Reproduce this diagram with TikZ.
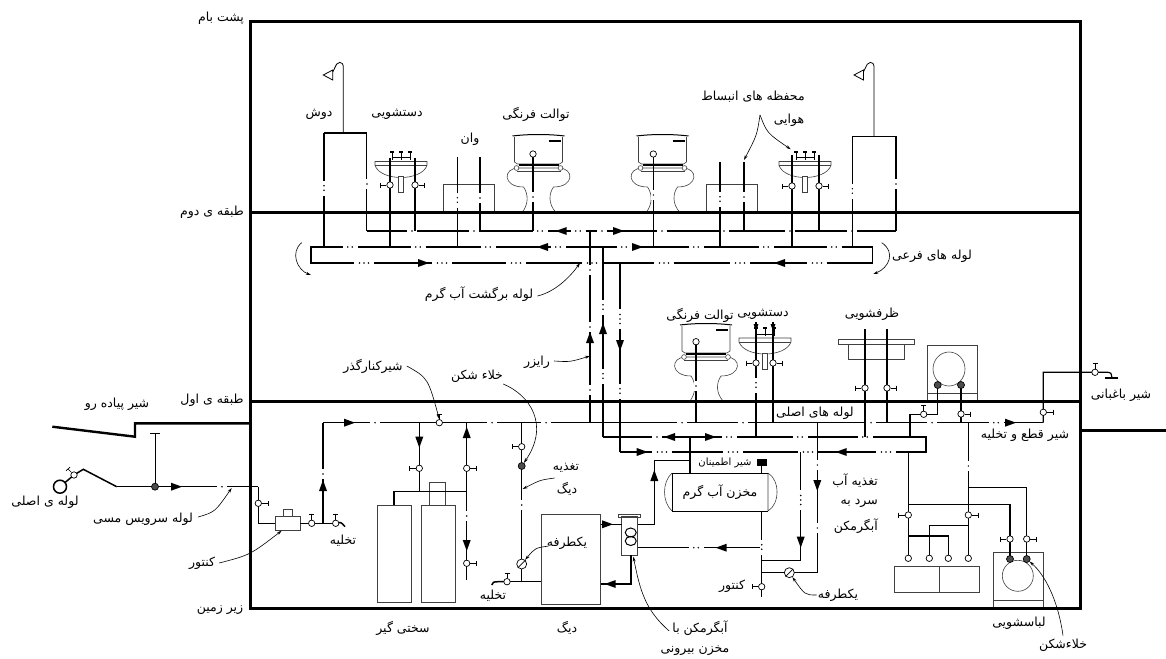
\documentclass[tikz,border=0pt]{standalone}
\usepackage{fontspec}
\usetikzlibrary{arrows.meta}
\TeXXeTstate=1
\newfontfamily\arabicfont[Script=Arabic]{DejaVu Sans}
\newcommand{\fa}[1]{{\arabicfont\beginR #1\endR}}
% white break in a pipe with n dots in it: x, y, n
\newcommand{\hbreak}[3]{%
  \fill[white] ({#1-(#3*2.5+2.5)},{#2-2}) rectangle ({#1+(#3*2.5+2.5)},{#2+2});
  \foreach \k in {1,...,#3} \fill ({#1+(\k-(#3+1)/2)*4.5},#2) circle (0.8);
}
\newcommand{\vbreak}[3]{%
  \fill[white] ({#1-2},{#2-(#3*2.5+2.5)}) rectangle ({#1+2},{#2+(#3*2.5+2.5)});
  \foreach \k in {1,...,#3} \fill (#1,{#2+(\k-(#3+1)/2)*4.5}) circle (0.8);
}
\tikzset{
  wall/.style={line width=3pt},
  pipe/.style={line width=1.5pt,line join=miter},
  svcpipe/.style={line width=1pt},
  fixture/.style={line width=0.6pt,black!75},
  stem/.style={line width=0.7pt},
  lbl/.style={font=\fontsize{12.5}{14}\selectfont,inner sep=0pt},
  leader/.style={line width=0.6pt,-{Stealth[length=5pt,width=3pt]}},
  valve/.style={circle,draw,line width=0.7pt,fill=white,inner sep=0pt,minimum size=6.4pt},
  darkvalve/.style={valve,fill=black!70,minimum size=7pt},
  basin/.pic={
    \draw[fixture,fill=white] (-26,0) -- (26,0) -- (26,4) .. controls (20,20) and (-20,20) .. (-26,4) -- cycle;
    \draw[fixture] (-26,4) -- (26,4);
    \draw[fixture,fill=white] (-2.5,15) rectangle (2.5,31);
    \draw[line width=0.9pt] (-9,-4) -- (9,-4);
    \foreach \k in {-9,0,9} {
      \draw[line width=1pt] (\k,-10) -- (\k,-2);
      \fill (\k-2,-11) rectangle (\k+2,-9);
    }
  },
  toilet/.pic={
    \draw[line width=1pt] (-26,-76) .. controls (-10,-78) and (10,-78) .. (26,-76);
    \draw[fixture] (-24,-75) -- (-24,-50) -- (-21,-48) -- (21,-48) -- (24,-50) -- (24,-75);
    \draw[line width=1.3pt] (10,-71) -- (22,-71);
    \draw[fixture,fill=white] (-15,-25) .. controls (-36,-25) and (-36,-44) .. (-20,-44) -- (20,-44) .. controls (36,-44) and (36,-25) .. (15,-25);
    \draw[fixture] (-22,-41) -- (22,-41);
    \draw[line width=1.4pt] (-20,-47) -- (20,-47);
    \draw[fixture,fill=white] (-22,-44) circle (2.4) (22,-44) circle (2.4);
    \draw[fixture] (-15,-25) .. controls (-10,-18) and (-10,-8) .. (-16,0);
    \draw[fixture] (15,-25) .. controls (10,-18) and (10,-8) .. (17,0);
  },
  washer/.pic={
    \draw[fixture] (0,0) rectangle (50,56);
    \draw[fixture] (0,48) -- (50,48);
    \draw[fixture] (24.5,23.5) circle (15.5);
  }
}
\begin{document}
\begin{tikzpicture}[x=1pt,y=-1pt]
  \useasboundingbox (0,0) rectangle (1166,658);

  % fixtures
  \draw[fixture] (443.3,212) -- (443.3,184.3) -- (494.7,184.3) -- (494.7,212);
  \draw[fixture] (706,212) -- (706,184.3) -- (757,184.3) -- (757,212);
  \path (538.5,212) pic {toilet} (662.5,212) pic {toilet} (706,401) pic {toilet};
  \path (401,161.5) pic {basin} (805,161.5) pic {basin} (765,338) pic {basin};
  \draw[fixture] (838,339) rectangle (914,344) (848,344) rectangle (904,359);
  \draw[fixture] (927.7,401) -- (927.7,345) -- (977.7,345) -- (977.7,401) (927.7,393) -- (977.7,393);
  \draw[fixture] (949,369) ellipse (16 and 17);
  \path (993.3,552.3) pic {washer};
  \draw[fixture] (377.3,505) rectangle (411.7,602.3) (421.7,505) rectangle (455.7,602.3);
  \draw[fixture] (429.3,482.3) rectangle (445.7,505);
  \draw[fixture] (541,514) rectangle (600.7,604);
  \draw[fixture] (894,566.7) rectangle (979,592.3) (939,566.7) -- (939,592.3);
  \draw[fixture] (275,516) rectangle (300,530.3) (283,509.3) rectangle (292.7,516);
  \draw[fixture] (621.7,516.7) rectangle (637.7,555);
  \draw[fixture] (618.3,514) rectangle (640,517.5);
  \draw[line width=1pt] (630.7,532.5) ellipse (5.5 and 4.5) (630.7,541) ellipse (5.5 and 4.5);
  \draw[fixture] (768,473) -- (768,511) .. controls (780,504) and (780,480) .. (768,473);
  \draw[fixture] (672,473) .. controls (662,482) and (662,502) .. (672,511);
  \draw[line width=1pt] (672,473) -- (672,511);
  \draw[line width=1pt] (672,473) -- (768,473) (672,511) -- (768,511);
  \fill (757,459) rectangle (767,466);

  % showers
  \foreach \x/\y in {343.3/133,874/136.7} {
    \draw[line width=0.8pt] (\x,\y) -- (\x,66) arc (0:-150:3.6) -- (\x-10.6,72);
    \draw[line width=0.8pt] (\x-10.6,70) -- (\x-20,75) -- (\x-10.6,80) -- cycle;
  }

  % building
  \draw[wall] (250,21.7) rectangle (1080,608);
  \draw[wall] (250,212.7) -- (1080,212.7) (250,401.5) -- (1080,401.5);
  \draw[wall] (1080,430.7) -- (1166,430.7);
  \draw[line width=2.4pt] (52.3,426.7) -- (135,436.7) -- (135,423.3) -- (250,423.3);

  % horizontal runs
  \draw[pipe] (367,231) -- (896,231);
  \draw[pipe] (311,263) -- (311,247) -- (872.7,247) -- (872.7,263) -- cycle;
  \draw[pipe] (323,422.7) -- (1043.3,422.7);
  \draw[pipe] (603,437) -- (926,437) -- (926,452) -- (620,452);
  \draw[pipe] (637.7,547.7) -- (761.7,547.7);
  \draw[svcpipe] (116.7,486.7) -- (258.3,486.7);
  \foreach \x/\y/\n in {412/231/1,474/231/1,540/231/2,578/231/2,602/231/1,662/231/1,724/231/1,790/231/1,852/231/1,
    350/247/2,418/247/2,488/247/2,558/247/2,624/247/2,696/247/2,766/247/2,834/247/2,
    364/263/3,442/263/3,516/263/3,592/263/3,664/263/3,740/263/3,817/263/3,
    375/422.7/1,492/422.7/1,546/422.7/1,682/422.7/1,743/422.7/1,871/422.7/1,932/422.7/1,996/422.7/2,
    657/437/1,729/437/2,800/437/2,865/437/2,
    662/452/3,733/452/3,808/452/3,886/452/3,
    696/547.7/2,222/486.7/1}
    \hbreak{\x}{\y}{\n};

  % upper floor risers and drops
  \draw[pipe]
    (324,133) -- (324,247) (324,133) -- (366.7,133) -- (366.7,231)
    (852.3,136.7) -- (852.3,247) (852.3,136.7) -- (896,136.7) -- (896,231)
    (390,158) -- (390,247) (415,158) -- (415,231)
    (457.3,157) -- (457.3,247) (480,157) -- (480,231)
    (533,154) -- (533,231) (653.3,154) -- (653.3,247)
    (720,162) -- (720,247) (744,162) -- (744,231)
    (792,155) -- (792,247) (819,155) -- (819,231)
    (590,231) -- (590,422.7) (603,247) -- (603,437) (620,263) -- (620,452)
    (696,341) -- (696,422.7) (756,322) -- (756,437) (773,322) -- (773,422.7)
    (865,329) -- (865,437) (887,329) -- (887,422.7);
  % lower floor
  \draw[pipe]
    (323,523.3) -- (323,422.7) (300,523.3) -- (335.7,523.3)
    (419.3,422.7) -- (419.3,491.7) (394,505) -- (394,491.7) -- (466.7,491.7)
    (466.7,422.7) -- (466.7,580)
    (521.7,422.7) -- (521.7,581.7) (507,581.7) -- (541,581.7)
    (600.7,524.3) -- (621.7,524.3) (637.7,524.3) -- (654.3,524.3) -- (654.3,460.7) -- (690,460.7)
    (690,437) -- (690,473) (631,555) -- (631,584) -- (600.7,584)
    (761.7,466) -- (761.7,473) (761.7,511) -- (761.7,596.7)
    (761.7,560.7) -- (800.7,560.7) -- (800.7,452)
    (761.7,572.7) -- (817.3,572.7) -- (817.3,422.7)
    (937.7,385) -- (937.7,414.3) -- (910,414.3) -- (910,437)
    (961,385) -- (961,422.7)
    (908.3,452) -- (908.3,558.3) (908.3,536) -- (948.3,536) -- (948.3,558.3)
    (968.3,422.7) -- (968.3,558.3) (968.3,525.7) -- (929.3,525.7) -- (929.3,558.3)
    (908.3,504.3) -- (1010,504.3) -- (1010,559)
    (968.3,487.7) -- (1026.7,487.7) -- (1026.7,559);
  \draw[svcpipe] (258.3,486.7) -- (258.3,523.3) -- (275,523.3);
  \draw[svcpipe,line width=1.2pt] (1043.3,422.7) -- (1043.3,372.3) -- (1108,372.3) .. controls (1111,372.5) .. (1112,378);
  \draw[line width=1.4pt] (1105,378) -- (1118,378);
  \draw[line width=1.5pt] (60,486.7) -- (74,475) -- (83.3,469.3) -- (116.7,486.7);
  \draw[line width=1.5pt,fill=white] (60,486.7) circle (6.5);
  \draw[svcpipe] (155,486.7) -- (155,433) (150,433) -- (160,433);
  \draw[pipe] (335.7,523.3) .. controls (341,522) .. (345,526.7);
  \draw[pipe] (507,581.7) -- (498,581.7) .. controls (493,582) .. (491.7,585);
  \foreach \x/\y/\n in {324/188/2,367/184/1,457.3/200/2,480/198/1,533/197/1,653.3/195/1,720/199/2,744/197/1,852.3/191/2,896/184/1,
    590/270/1,590/327/1,590/390/1,603/307/2,603/376/2,620/319/3,620/391/2,
    696/386/1,756/385/2,323/474/1,466.7/516/1,521.7/505/1,968.3/466/1,
    800.7/500/3,817.3/465/1,817.3/528/1,761.7/547/2}
    \vbreak{\x}{\y}{\n};

  % flow arrows: x, y, direction
  \foreach \x/\y/\a in {561.7/231/180,618/231/0,543/247/180,637/247/0,423/263/0,780/263/180,
    176/486.7/0,349/422.7/0,1010/422.7/0,323/486/90,
    590/338/90,603/329/90,620/345/270,
    419.3/441.7/270,466.7/433/90,466.7/545/270,
    670/437/180,710/437/0,641.7/452/0,841.7/452/180,
    607/524.3/0,610.7/584/180,654.3/476/90,721.7/547.7/180,
    817.3/485/270,800.7/541.7/270}
    \fill[shift={(\x,\y)},rotate=\a] (6,0) -- (-5,4) -- (-5,-4) -- cycle;
  \foreach \x in {756,773}
    \fill (\x-2.5,324) -- (\x+2.5,324) -- (\x,331) -- cycle;

  % valves with a stem to the left, to the right, upwards
  \foreach \x/\y [count=\i] in {390/185,792/186,756/363,865/388,419.3/468.3,521.7/446.7,761.7/586.7,908.3/515,1010/539} {
    \node[valve] (vl\i) at (\x,\y) {};
    \draw[stem] (vl\i.west) -- ++(-6,0) ++(0,-2.5) -- ++(0,5);
  }
  \foreach \x/\y [count=\i] in {415/185,819/186,773/363,887/388,961/414,1043.3/412.3,258.3/503.3,466.7/468.3,466.7/563.3,968.3/515,1026.7/539} {
    \node[valve] (vr\i) at (\x,\y) {};
    \draw[stem] (vr\i.east) -- ++(6,0) ++(0,-2.5) -- ++(0,5);
  }
  \foreach \x/\y [count=\i] in {311.7/523.3,335.7/523.3,439.3/422.7,507/581.7,923.7/414.3,1095/372.3} {
    \node[valve] (vu\i) at (\x,\y) {};
    \draw[stem] (vu\i.north) -- ++(0,-5) ++(-2.5,0) -- ++(5,0);
  }
  \foreach \x/\y [count=\i] in {533/154,653.3/154,696/341.7,908.3/558.3,929.3/558.3,948.3/558.3,968.3/558.3}
    \node[valve] (vo\i) at (\x,\y) {};
  \foreach \x/\y [count=\i] in {155/486.7,521.7/466,937.7/385,961/385,1010/559,1026.7/559}
    \node[darkvalve] (vd\i) at (\x,\y) {};
  \node[valve] (vmain) at (74,475) {};
  \draw[stem] (vmain.north west) -- ++(-3.5,-3.5) ++(-2,1.8) -- ++(4,-3.6);
  \foreach \x/\y [count=\i] in {521.7/564,789.3/572.7} {
    \node[valve,minimum size=10pt] (vc\i) at (\x,\y) {};
    \draw[stem] (vc\i.south west) -- (vc\i.north east);
  }

  % labels
  \node[lbl] (roof) at (221,18) {\fa{پشت بام}};
  \node[lbl] (floortwo) at (212,212) {\fa{طبقه ی دوم}};
  \node[lbl] (floorone) at (212,400) {\fa{طبقه ی اول}};
  \node[lbl] (basement) at (220,610) {\fa{زیر زمین}};
  \node[lbl] (walkway) at (117,404) {\fa{شیر پیاده رو}};
  \node[lbl] (mainpipe) at (45,502.7) {\fa{لوله ی اصلی}};
  \node[lbl] (copper) at (143,519) {\fa{لوله سرویس مسی}};
  \node[lbl] (meterone) at (202,563) {\fa{کنتور}};
  \node[lbl] (drainone) at (343,541) {\fa{تخلیه}};
  \node[lbl] (shower) at (319,114) {\fa{دوش}};
  \node[lbl] (sinkone) at (397,114) {\fa{دستشویی}};
  \node[lbl] (tub) at (470,139) {\fa{وان}};
  \node[lbl] (wcone) at (536,114) {\fa{توالت فرنگی}};
  \node[lbl] (airone) at (753,97) {\fa{محفظه های انبساط}};
  \node[lbl] (airtwo) at (789,120) {\fa{هوایی}};
  \node[lbl] (branches) at (932,256) {\fa{لوله های فرعی}};
  \node[lbl] (hotreturn) at (479,294) {\fa{لوله برگشت آب گرم}};
  \node[lbl] (riser) at (537,362) {\fa{رایزر}};
  \node[lbl] (breaker) at (477,376) {\fa{خلاء شکن}};
  \node[lbl] (bypass) at (373,366) {\fa{شیرکنارگذر}};
  \node[lbl] (wctwo) at (700,315) {\fa{توالت فرنگی}};
  \node[lbl] (sinktwo) at (763,314) {\fa{دستشویی}};
  \node[lbl] (kitchen) at (872,314) {\fa{ظرفشویی}};
  \node[lbl] (mains) at (815,413) {\fa{لوله های اصلی}};
  \node[lbl] (garden) at (1121,395) {\fa{شیر باغبانی}};
  \node[lbl] (shutoff) at (1025,435) {\fa{شیر قطع و تخلیه}};
  \node[lbl,font=\fontsize{10}{12}\selectfont] (safety) at (725,463) {\fa{شیر اطمینان}};
  \node[lbl] (tank) at (720,492) {\fa{مخزن آب گرم}};
  \node[lbl] (feedone) at (566,468) {\fa{تغذیه}};
  \node[lbl] (feedtwo) at (567,489) {\fa{دیگ}};
  \node[lbl] (checkone) at (567,543) {\fa{یکطرفه}};
  \node[lbl] (draintwo) at (493,596) {\fa{تخلیه}};
  \node[lbl] (softener) at (403,628) {\fa{سختی گیر}};
  \node[lbl] (boiler) at (567,628) {\fa{دیگ}};
  \node[lbl] (heaterone) at (700,628) {\fa{آبگرمکن با}};
  \node[lbl] (heatertwo) at (695,651) {\fa{مخزن بیرونی}};
  \node[lbl,anchor=east] (coldone) at (878,481) {\fa{تغذیه آب}};
  \node[lbl,anchor=east] (coldtwo) at (878,503) {\fa{سرد به}};
  \node[lbl,anchor=east] (coldthree) at (878,526) {\fa{آبگرمکن}};
  \node[lbl] (metertwo) at (732,586) {\fa{کنتور}};
  \node[lbl] (checktwo) at (838,595) {\fa{یکطرفه}};
  \node[lbl] (laundry) at (1019,623) {\fa{لباسشویی}};
  \node[lbl] (breakertwo) at (1063,645) {\fa{خلاءشکن}};

  % leaders
  \coordinate (airup) at (760,115);
  \coordinate (sinkair) at (790.7,149.3);
  \coordinate (tubair) at (744,160);
  \coordinate (branchend) at (873.3,274);
  \coordinate (branchtop) at (881.7,242.7);
  \coordinate (leftend) at (311,275);
  \coordinate (lefttop) at (301.7,242.7);
  \coordinate (returnend) at (580,263);
  \coordinate (riserend) at (590,356);
  \coordinate (feedend) at (522.7,489);
  \coordinate (copperend) at (231.7,488);
  \coordinate (meterend) at (281.7,530.7);
  \coordinate (heaterend) at (633.3,556.7);
  \draw[leader] (airup) .. controls (757,135) .. (tubair);
  \draw[leader] (airup) .. controls (767,133) .. (sinkair);
  \draw[leader] (branchtop) .. controls (896,252) and (889,268) .. (branchend);
  \draw[leader] (lefttop) .. controls (290,252) and (297,270) .. (leftend);
  \draw[leader] (hotreturn.east) ++(4,2) .. controls (555,292) and (570,277) .. (returnend);
  \draw[leader] (riser.east) ++(4,-1) .. controls (570,362) .. (riserend);
  \draw[leader] (breaker.east) ++(0,8) .. controls (530,395) and (550,425) .. (vd2);
  \draw[leader] (bypass.east) ++(4,0) .. controls (428,378) .. (vu3.north);
  \draw[leader] (feedone.west) ++(2,10) .. controls (540,480) .. (feedend);
  \draw[leader] (copper.east) ++(5,-2) .. controls (215,512) .. (copperend);
  \draw[leader] (meterone.east) ++(4,0) .. controls (250,555) .. (meterend);
  \draw[leader] (checkone.west) ++(2,3) .. controls (535,548) .. (vc1);
  \draw[leader] (heaterone.west) ++(-3,3) .. controls (645,610) and (640,590) .. (heaterend);
  \draw[leader] (checktwo.west) ++(-1,0) .. controls (805,595) .. (vc2);
  \draw[leader] (breakertwo.north) ++(0,-3) .. controls (1058,600) and (1045,575) .. (vd6);
\end{tikzpicture}
\end{document}
